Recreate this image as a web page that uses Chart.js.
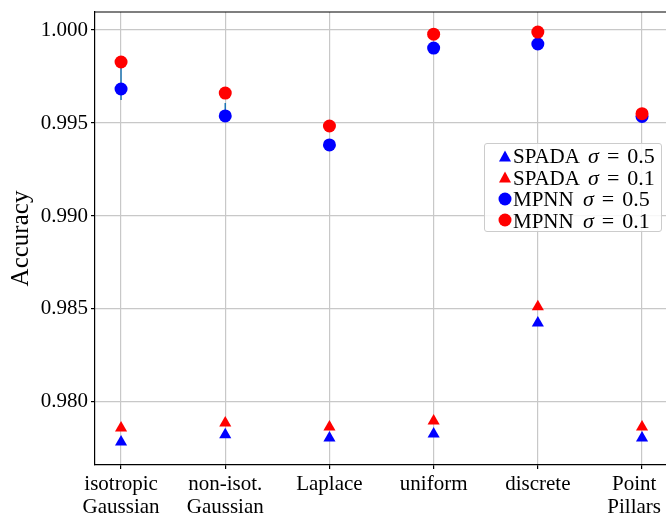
<!DOCTYPE html>
<html>
<head>
<meta charset="utf-8">
<script src="https://cdn.jsdelivr.net/npm/chart.js@4.4.1/dist/chart.umd.min.js"></script>
<style>
    html, body { margin: 0; padding: 0; background: #fff; }
    .wrap { position: relative; width: 666px; height: 520px; overflow: hidden; }
    .legend {
        position: absolute; left: 484px; top: 143px; width: 178px; height: 89px;
        border: 1px solid #cccccc; border-radius: 3px; background: rgba(255,255,255,0.85);
        font-family: 'Liberation Serif', serif; font-size: 21px; color: #000;
        box-sizing: border-box; padding-top: 1px;
    }
    .legend .row { height: 21.5px; line-height: 21.5px; white-space: nowrap; position: relative; padding-left: 28px; }
    .legend .mk { position: absolute; left: 20px; top: 50%; transform: translate(-50%, -50%); }
    .legend i { font-style: italic; font-size: 22px; margin-left: 4px; }
    .legend .eq { margin: 0 8px; font-size: 22px; }
    .legend .num { font-size: 22px; }
</style>
</head>
<body>
<div class="wrap">
    <canvas id="chart" width="666" height="520"></canvas>
    <div class="legend" id="legend"></div>
</div>
<script>
// Categories (x tick labels, two lines each)
const categories = [
    ['isotropic', 'Gaussian'],
    ['non-isot.', 'Gaussian'],
    ['Laplace'],
    ['uniform'],
    ['discrete'],
    ['Point', 'Pillars']
];

// Accuracy values
const spada05 = [0.97785, 0.97823, 0.97806, 0.97828, 0.98425, 0.97806];
const spada01 = [0.97860, 0.97887, 0.97866, 0.97898, 0.98512, 0.97866];
const mpnn05  = [0.99683, 0.99538, 0.99382, 0.99903, 0.99925, 0.99535];
const mpnn01  = [0.99828, 0.99661, 0.99484, 0.99978, 0.99989, 0.99550];

// Error bars of MPNN sigma = 0.5 (low / high)
const mpnn05Lo = [0.99624, 0.99511, 0.99370, 0.99893, 0.99915, 0.99525];
const mpnn05Hi = [0.99796, 0.99608, 0.99394, 0.99913, 0.99935, 0.99545];

// y tick labels
const yTicks = [0.980, 0.985, 0.990, 0.995, 1.000];

const toPoints = arr => arr.map((v, i) => ({ x: i, y: v }));

const datasets = [
    { label: 'SPADA', sigma: '0.5', data: toPoints(spada05), color: '#0000ff', style: 'triangle', radius: 7, order: 4 },
    { label: 'SPADA', sigma: '0.1', data: toPoints(spada01), color: '#ff0000', style: 'triangle', radius: 7, order: 3 },
    { label: 'MPNN',  sigma: '0.5', data: toPoints(mpnn05),  color: '#0000ff', style: 'circle',   radius: 6.5, order: 2 },
    { label: 'MPNN',  sigma: '0.1', data: toPoints(mpnn01),  color: '#ff0000', style: 'circle',   radius: 6.5, order: 1 }
].map(d => ({
    label: d.label + ' \u03c3 = ' + d.sigma,
    sigma: d.sigma,
    name: d.label,
    data: d.data,
    pointStyle: d.style,
    pointRadius: d.radius,
    pointHoverRadius: d.radius,
    pointBackgroundColor: d.color,
    pointBorderColor: d.color,
    pointBorderWidth: 0,
    order: d.order,
    showLine: false
}));

const serif = "'Liberation Serif', 'Times New Roman', serif";

// error bars drawn under the markers
const errorBars = {
    id: 'errorBars',
    beforeDatasetsDraw(chart) {
        const ctx = chart.ctx, xs = chart.scales.x, ys = chart.scales.y;
        ctx.save();
        ctx.strokeStyle = '#1f77b4';
        ctx.lineWidth = 1.5;
        mpnn05Lo.forEach((lo, i) => {
            const x = xs.getPixelForValue(i);
            ctx.beginPath();
            ctx.moveTo(x, ys.getPixelForValue(lo));
            ctx.lineTo(x, ys.getPixelForValue(mpnn05Hi[i]));
            ctx.stroke();
        });
        ctx.restore();
    }
};

// top frame line + category labels (kept inside the canvas at the right edge)
const frameAndLabels = {
    id: 'frameAndLabels',
    afterDraw(chart) {
        const ctx = chart.ctx, a = chart.chartArea, xs = chart.scales.x;
        ctx.save();
        ctx.strokeStyle = '#000';
        ctx.lineWidth = 1.2;
        ctx.beginPath();
        ctx.moveTo(a.left, a.top);
        ctx.lineTo(a.right, a.top);
        ctx.stroke();

        ctx.fillStyle = '#000';
        ctx.font = '21px ' + serif;
        ctx.textAlign = 'center';
        ctx.textBaseline = 'top';
        categories.forEach((lines, i) => {
            const w = Math.max(...lines.map(t => ctx.measureText(t).width));
            const x = Math.min(xs.getPixelForValue(i), chart.width - w / 2 - 5);
            lines.forEach((t, k) => ctx.fillText(t, x, a.bottom + 9 + k * 22.7));
        });
        ctx.restore();
    }
};

const chart = new Chart(document.getElementById('chart').getContext('2d'), {
    type: 'scatter',
    data: { datasets: datasets },
    options: {
        responsive: false,
        animation: false,
        layout: { autoPadding: false, padding: { top: 12, right: 0, left: 0, bottom: 0 } },
        plugins: {
            legend: { display: false },
            tooltip: { enabled: false }
        },
        scales: {
            x: {
                type: 'linear',
                min: -0.25,
                max: 5.23,
                afterBuildTicks: s => { s.ticks = categories.map((_, i) => ({ value: i })); },
                afterFit: s => { s.height = 55; },
                grid: { color: '#c8c8c8', lineWidth: 1.2, tickColor: '#000', tickLength: 4 },
                border: { color: '#000', width: 1.2 },
                ticks: { display: false }
            },
            y: {
                min: 0.97661,
                max: 1.00097,
                afterBuildTicks: s => { s.ticks = yTicks.map(v => ({ value: v })); },
                afterFit: s => { s.width = 95; s.paddingTop = 0; s.paddingBottom = 0; },
                grid: { color: '#c8c8c8', lineWidth: 1.2, tickColor: '#000', tickLength: 4 },
                border: { color: '#000', width: 1.2 },
                title: {
                    display: true,
                    text: 'Accuracy',
                    color: '#000',
                    font: { family: serif, size: 25 },
                    padding: { top: 6, bottom: 0 }
                },
                ticks: {
                    padding: 3,
                    color: '#000',
                    font: { family: serif, size: 21 },
                    callback: v => v.toFixed(3)
                }
            }
        }
    },
    plugins: [errorBars, frameAndLabels]
});

// HTML legend built from the datasets
const legend = document.getElementById('legend');
chart.data.datasets.forEach(ds => {
    const row = document.createElement('div');
    row.className = 'row';
    const mk = document.createElement('span');
    mk.className = 'mk';
    const c = ds.pointBackgroundColor;
    if (ds.pointStyle === 'triangle') {
        mk.style.cssText += 'width:0;height:0;border-left:6px solid transparent;border-right:6px solid transparent;border-bottom:11px solid ' + c + ';';
    } else {
        mk.style.cssText += 'width:13px;height:13px;border-radius:50%;background:' + c + ';';
    }
    row.appendChild(mk);
    row.appendChild(document.createTextNode(ds.name + ' '));
    const s = document.createElement('i');
    s.textContent = '\u03c3';
    row.appendChild(s);
    const eq = document.createElement('span');
    eq.className = 'eq';
    eq.textContent = '=';
    row.appendChild(eq);
    const num = document.createElement('span');
    num.className = 'num';
    num.textContent = ds.sigma;
    row.appendChild(num);
    legend.appendChild(row);
});
</script>
</body>
</html>
